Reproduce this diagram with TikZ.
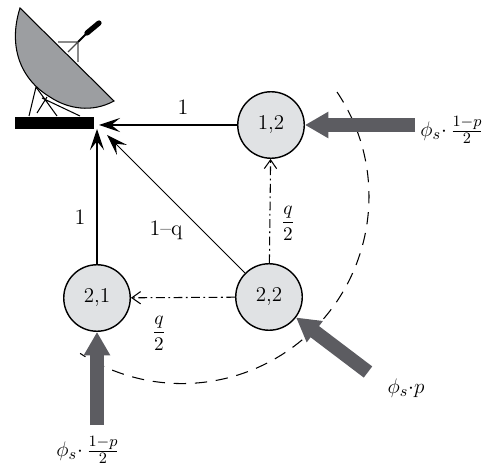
\documentclass[tikz,border=0pt]{standalone}
\usepackage{amsmath}
\usepackage{xcolor}
\definecolor{stategray}{rgb}{0.88,0.885,0.895}
\definecolor{dishgray}{rgb}{0.61,0.62,0.63}
\definecolor{flowgray}{rgb}{0.36,0.36,0.38}
\usetikzlibrary{arrows.meta,positioning}
\tikzset{
	state/.style={
		draw, circle, minimum size=1.33cm, fill=stategray,
		inner sep=0pt, text=black, thick, font=\fontsize{12}{14}\selectfont
	},
	link/.style={-{Stealth[length=12pt,width=8pt,inset=5pt]}, semithick},
	split/.style={-{Straight Barb[length=5pt,width=7pt]}, semithick, dash pattern=on 5pt off 2pt on 1pt off 2pt},
	flow/.style={-{Triangle[length=0.47cm,width=0.5cm]}, line width=0.28cm, draw=flowgray},
	lab/.style={inner sep=0pt, font=\fontsize{12.5}{14}\selectfont},
	share/.style={inner sep=0pt, font=\fontsize{10.5}{12}\selectfont},
	rate/.style={inner sep=0pt, font=\fontsize{13}{15}\selectfont},
}
\begin{document}
\begin{tikzpicture}[x=0.2mm,y=0.2mm]
	\useasboundingbox (0,0) rectangle (493,471);
	% boundary of the cell
	\draw[semithick, dash pattern=on 7pt off 5pt] (337,379) arc (34:-123:187);
	% antenna
	\draw[thick,draw=black!70] (58,429) -- (78,429) -- (78,409) (68,419) -- (78,429);
	\draw[line width=1.2pt] (78,429) -- (87,438);
	\draw[line width=3pt,line cap=round] (87,438) -- (99,448);
	\draw[semithick] (36,384) -- (29,355) (36,384) -- (57,355) (47,374) -- (37,358) (42,373) -- (80,355);
	\draw[semithick,fill=dishgray] (20,463) .. controls (8,425) and (20,392) .. (50,374)
		.. controls (68,362) and (92,358) .. (114,370) -- cycle;
	\node[fill=black, minimum width=1.58cm, minimum height=0.24cm, inner sep=0pt] (base) at (54.5,348) {};
	\coordinate (top) at (99,346);
	\coordinate (under) at (97,342);
	\coordinate (slant) at (107,336);
	% states
	\node[state] (s12) at (271,346) {1,2};
	\node[state] (s22) at (269,174) {2,2};
	\node[state] (s21) at (97,173) {2,1};
	\draw[link] (s12) -- (top);
	\draw[link] (s21) -- (under);
	\draw[link] (s22) -- (slant);
	\draw[split] (s22) -- (s12);
	\draw[split] (s22) -- (s21);
	% arrivals
	\coordinate (in12) at (415,346);
	\coordinate (in22) at (368,99);
	\coordinate (in21) at (97,46);
	\draw[flow] (in12) -- (s12);
	\draw[flow] (in22) -- (s22);
	\draw[flow] (in21) -- (s21);
	% labels
	\node[lab] (one12) at (183,364) {1};
	\node[lab] (one21) at (80,254) {1};
	\node[lab] (oneq) at (166,241) {1--q};
	\node[share] (q12) at (288,248) {$\dfrac{q}{2}$};
	\node[share] (q21) at (159,138) {$\dfrac{q}{2}$};
	\node[rate] (r12) at (452,341) {$\phi_s{\cdot}\,\frac{1-p}{2}$};
	\node[rate] (r22) at (406,83) {$\phi_s{\cdot}p$};
	\node[rate] (r21) at (88,21) {$\phi_s{\cdot}\,\frac{1-p}{2}$};
\end{tikzpicture}
\end{document}
